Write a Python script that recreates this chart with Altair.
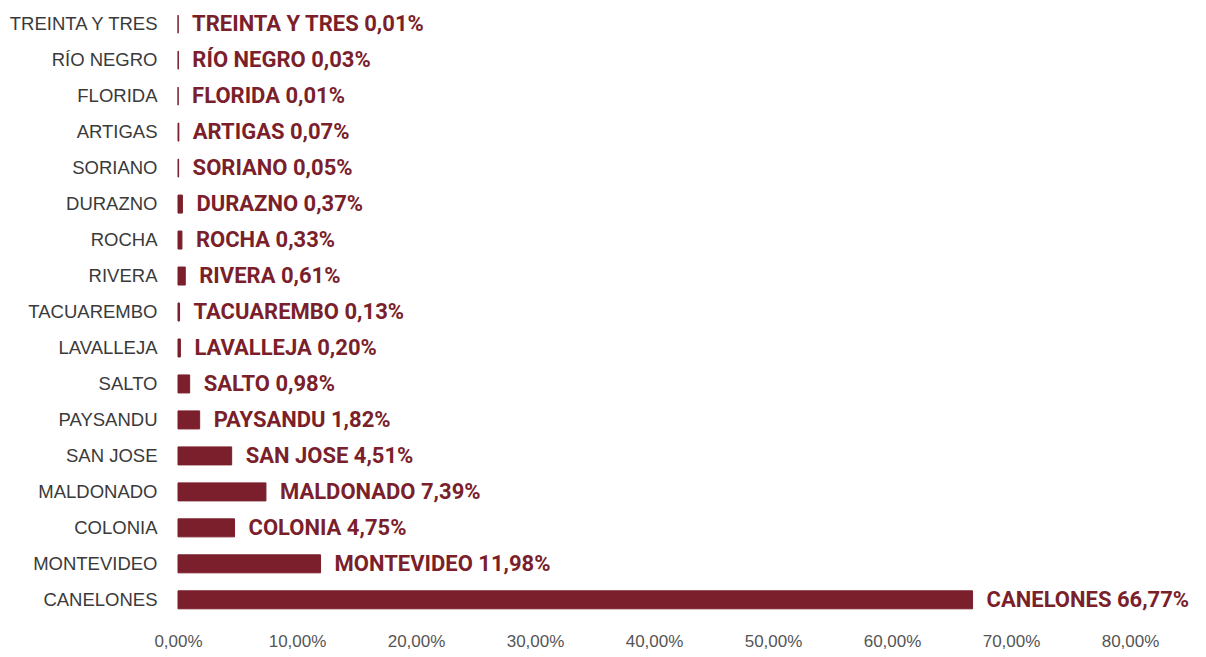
import altair as alt
import pandas as pd

departments = ["TREINTA Y TRES", "RÍO NEGRO", "FLORIDA", "ARTIGAS", "SORIANO", "DURAZNO",
               "ROCHA", "RIVERA", "TACUAREMBO", "LAVALLEJA", "SALTO", "PAYSANDU",
               "SAN JOSE", "MALDONADO", "COLONIA", "MONTEVIDEO", "CANELONES"]
shares = [0.01, 0.03, 0.01, 0.07, 0.05, 0.37, 0.33, 0.61, 0.13, 0.20, 0.98, 1.82,
          4.51, 7.39, 4.75, 11.98, 66.77]
x_ticks = [0, 10, 20, 30, 40, 50, 60, 70, 80]

df = pd.DataFrame({"dep": departments, "share": shares})
df["label"] = [f"{d} {v:.2f}".replace(".", ",") + "%" for d, v in zip(departments, shares)]

RED = "#7a1f2b"

y = alt.Y("dep:N", sort=departments, title=None,
          scale=alt.Scale(paddingInner=0.5, paddingOuter=0.2),
          axis=alt.Axis(domain=False, ticks=False, labelFont="Liberation Sans",
                        labelFontSize=18.5, labelColor="#3a3a3a", labelPadding=21))
x = alt.X("share:Q", title=None,
          scale=alt.Scale(domain=[0, 80], nice=False),
          axis=alt.Axis(values=x_ticks, grid=False, domain=False, ticks=False,
                        labelFont="Liberation Sans", labelFontSize=17,
                        labelColor="#555555", labelPadding=17, labelFlush=False,
                        labelExpr="replace(format(datum.value, '.2f'), '.', ',') + '%'"))

bars = alt.Chart(df).mark_bar(color=RED, stroke=RED, strokeWidth=1).encode(x=x, y=y)
text = alt.Chart(df).mark_text(align="left", baseline="middle", dx=14,
                               font="Roboto", fontWeight="bold",
                               fontSize=22, color=RED).encode(
    x=alt.X("share:Q"), y=alt.Y("dep:N", sort=departments), text="label:N")

chart = (bars + text).properties(
    width=952, height=608,
    background="white",
    autosize=alt.AutoSizeParams(type="none"),
    padding={"left": 170, "top": 0, "right": 68, "bottom": 33},
).configure_view(stroke=None)

chart.save("out.html", embed_options={"renderer": "svg", "actions": False})
